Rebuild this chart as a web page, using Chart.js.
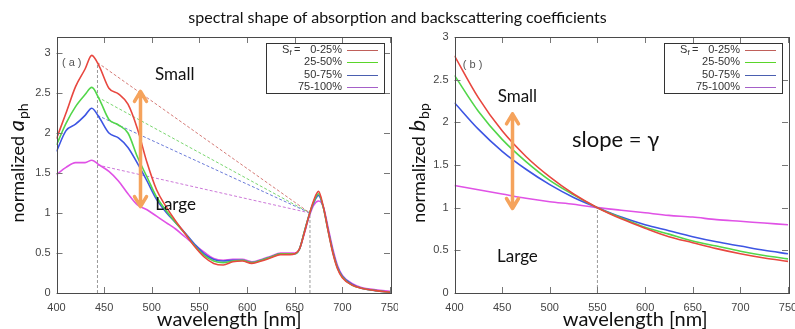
<!DOCTYPE html>
<html>
<head>
<meta charset="utf-8">
<script src="https://cdn.jsdelivr.net/npm/chart.js@4.4.1/dist/chart.umd.min.js"></script>
<style>
  html, body { margin: 0; padding: 0; background: #fff; }
  #wrap { position: relative; width: 795px; height: 329px; overflow: hidden; }
  #title { position: absolute; left: 0; top: 7px; width: 795px; text-align: center;
           font: 16px Lato, "Open Sans", sans-serif; color: #111; }
  .panel { position: absolute; top: 0; height: 329px; }
  #panelA { left: 0; width: 398px; }
  #panelB { left: 398px; width: 397px; }
</style>
</head>
<body>
<div id="wrap">
  <div class="panel" id="panelA"><canvas id="aphChart"></canvas></div>
  <div class="panel" id="panelB"><canvas id="bbpChart"></canvas></div>
  <div id="title">spectral shape of absorption and backscattering coefficients</div>
</div>
<script>
// --- data ---
const groups = ['0-25%', '25-50%', '50-75%', '75-100%'];
const xTicks = [400, 450, 500, 550, 600, 650, 700, 750];
const yTicks = [0, 0.5, 1, 1.5, 2, 2.5, 3];

// (a) phytoplankton absorption, normalized
const wlA = [400, 410, 420, 430, 437, 445, 455, 465, 475, 485, 495, 505, 515, 525, 535, 545, 555, 565, 575, 585, 595,
             605, 615, 625, 635, 645, 650, 655, 660, 665, 670, 675, 680, 685, 690, 695, 700, 710, 720, 735, 750];
const aph0_25 = [1.93, 2.25, 2.58, 2.80, 2.97, 2.83, 2.56, 2.49, 2.36, 2.05, 1.63, 1.29, 1.08, 0.90, 0.74, 0.58, 0.45, 0.37, 0.35, 0.39, 0.40,
                 0.37, 0.40, 0.44, 0.48, 0.48, 0.49, 0.55, 0.75, 0.97, 1.16, 1.27, 1.08, 0.78, 0.50, 0.30, 0.19, 0.10, 0.06, 0.03, 0.01];
const aph25_50 = [1.85, 2.12, 2.33, 2.48, 2.57, 2.42, 2.17, 2.10, 2.00, 1.70, 1.45, 1.20, 1.03, 0.88, 0.74, 0.59, 0.47, 0.40, 0.38, 0.40, 0.41,
                  0.38, 0.41, 0.45, 0.49, 0.49, 0.49, 0.55, 0.76, 0.97, 1.14, 1.24, 1.07, 0.78, 0.51, 0.31, 0.20, 0.10, 0.06, 0.03, 0.01];
const aph50_75 = [1.77, 2.03, 2.11, 2.22, 2.31, 2.19, 2.00, 1.94, 1.82, 1.62, 1.40, 1.17, 1.01, 0.88, 0.75, 0.61, 0.49, 0.42, 0.40, 0.41, 0.41,
                  0.38, 0.41, 0.45, 0.49, 0.49, 0.49, 0.55, 0.76, 0.97, 1.13, 1.22, 1.07, 0.79, 0.52, 0.32, 0.21, 0.11, 0.06, 0.03, 0.01];
const aph75_100 = [1.48, 1.57, 1.63, 1.63, 1.66, 1.60, 1.52, 1.40, 1.24, 1.10, 1.04, 0.96, 0.88, 0.80, 0.70, 0.60, 0.51, 0.43, 0.41, 0.42, 0.42,
                   0.39, 0.42, 0.46, 0.50, 0.50, 0.50, 0.55, 0.74, 0.95, 1.10, 1.15, 1.08, 0.82, 0.55, 0.34, 0.22, 0.12, 0.07, 0.04, 0.02];
// blue peak -> red peak straight lines
const peakWl = 443;
const redWl = 666;
const aphAtPeak = [2.88, 2.45, 2.22, 1.60];

// (b) particulate backscattering, normalized at 550
const wlB = [400, 425, 450, 475, 500, 525, 550, 575, 600, 625, 650, 675, 700, 725, 750];
const bbp0_25 = [2.78, 2.29, 1.90, 1.60, 1.36, 1.16, 1.00, 0.87, 0.76, 0.66, 0.59, 0.52, 0.46, 0.41, 0.37];
const bbp25_50 = [2.55, 2.13, 1.80, 1.54, 1.32, 1.15, 1.00, 0.88, 0.77, 0.69, 0.61, 0.55, 0.49, 0.44, 0.40];
const bbp50_75 = [2.23, 1.92, 1.66, 1.45, 1.27, 1.12, 1.00, 0.89, 0.80, 0.73, 0.66, 0.60, 0.55, 0.50, 0.46];
const bbp75_100 = [1.26, 1.21, 1.16, 1.11, 1.07, 1.04, 1.00, 0.97, 0.94, 0.91, 0.89, 0.86, 0.84, 0.82, 0.80];
const refWl = 550;

// --- styles ---
const curveColors = ['#e8473f', '#52d64a', '#3d55e3', '#e052e6'];
const keyColors = ['#c0605a', '#5ad52a', '#4a5fb0', '#a560c8'];
const dashColors = ['#d57c78', '#7ad670', '#6a7ad8', '#cc78d8'];
const orange = '#f5a35c';

const pts = (xs, ys) => xs.map((x, i) => ({ x, y: ys[i] }));

const solid = (data, i) => ({
    label: groups[i], data, borderColor: curveColors[i], borderWidth: 1.6,
    pointRadius: 0, cubicInterpolationMode: 'monotone', fill: false
});
const dashed = (data, color) => ({
    data, borderColor: color, borderWidth: 1, borderDash: [3, 2],
    pointRadius: 0, fill: false
});

// arrow with two open heads, in pixels
function drawArrow(ctx, x, y0, y1) {
    const head = (yy, dir) => {
        ctx.moveTo(x - 6, yy + dir * 10);
        ctx.lineTo(x, yy);
        ctx.lineTo(x + 6, yy + dir * 10);
    };
    ctx.strokeStyle = orange;
    ctx.lineWidth = 3.5;
    ctx.lineCap = 'round';
    ctx.lineJoin = 'round';
    ctx.beginPath();
    ctx.moveTo(x, y0);
    ctx.lineTo(x, y1);
    head(y0, 1);
    head(y1, -1);
    ctx.stroke();
}

// frame, inward ticks, key, labels
const decor = {
    id: 'decor',
    afterDraw(chart, args, o) {
        const { ctx, chartArea: a, scales: { x, y } } = chart;
        ctx.save();

        // inward ticks on all four sides
        ctx.strokeStyle = '#777';
        ctx.lineWidth = 1;
        ctx.beginPath();
        xTicks.forEach(v => {
            const px = Math.round(x.getPixelForValue(v)) + 0.5;
            ctx.moveTo(px, a.bottom); ctx.lineTo(px, a.bottom - 6);
            ctx.moveTo(px, a.top); ctx.lineTo(px, a.top + 6);
        });
        yTicks.forEach(v => {
            const py = Math.round(y.getPixelForValue(v)) + 0.5;
            ctx.moveTo(a.left, py); ctx.lineTo(a.left + 6, py);
            ctx.moveTo(a.right, py); ctx.lineTo(a.right - 6, py);
        });
        ctx.stroke();

        ctx.strokeStyle = '#4a4a4a';
        ctx.strokeRect(Math.round(a.left) + 0.5, Math.round(a.top) + 0.5,
                       Math.round(a.right - a.left), Math.round(a.bottom - a.top));

        // key box
        const lx = Math.round(a.right) - 124, ly = Math.round(a.top) + 6;
        ctx.strokeStyle = '#333';
        ctx.strokeRect(lx + 0.5, ly + 0.5, 118, 50);
        ctx.font = '11px "Liberation Sans", Arial, sans-serif';
        ctx.fillStyle = '#333';
        ctx.textBaseline = 'middle';
        groups.forEach((g, i) => {
            const ry = ly + 6.5 + i * 12.6;
            ctx.textAlign = 'right';
            ctx.fillText(g, lx + 76, ry);
            ctx.strokeStyle = keyColors[i];
            ctx.beginPath();
            ctx.moveTo(lx + 81, Math.round(ry) + 0.5);
            ctx.lineTo(lx + 112, Math.round(ry) + 0.5);
            ctx.stroke();
        });
        ctx.textAlign = 'left';
        ctx.fillText('S', lx + 16, ly + 6.5);
        ctx.font = '8px "Liberation Sans", Arial, sans-serif';
        ctx.fillText('f', lx + 23.5, ly + 10);
        ctx.font = '11px "Liberation Sans", Arial, sans-serif';
        ctx.fillText('=', lx + 28, ly + 6.5);

        // panel tag
        ctx.fillStyle = '#555';
        ctx.textAlign = 'center';
        ctx.fillText(o.tag[0], x.getPixelForValue(o.tag[1]), y.getPixelForValue(o.tag[2]));

        // guide arrow
        const ax = Math.round(x.getPixelForValue(o.arrow[0])) + 0.5;
        drawArrow(ctx, ax, y.getPixelForValue(o.arrow[1]), y.getPixelForValue(o.arrow[2]));

        // notes
        ctx.fillStyle = '#111';
        o.notes.forEach(([t, wl, v, size]) => {
            ctx.font = size + 'px Lato, "Open Sans", "DejaVu Sans", sans-serif';
            ctx.fillText(t, x.getPixelForValue(wl), y.getPixelForValue(v));
        });

        // x title
        ctx.textBaseline = 'alphabetic';
        ctx.font = '20px Lato, "Open Sans", sans-serif';
        ctx.fillText('wavelength [nm]', (a.left + a.right) / 2 + o.xTitleDx, 326);

        // y title: normalized <i>a</i><sub>ph</sub>
        const f1 = '18px Lato, "Open Sans", sans-serif';
        const f2 = 'italic 22px Lato, "Open Sans", sans-serif';
        const f3 = '14px Lato, "Open Sans", sans-serif';
        ctx.font = f1; const w1 = ctx.measureText('normalized ').width;
        ctx.font = f2; const w2 = ctx.measureText(o.yTitle[0]).width + 1;
        ctx.font = f3; const w3 = ctx.measureText(o.yTitle[1]).width;
        ctx.translate(o.yTitleX, 163);
        ctx.rotate(-Math.PI / 2);
        ctx.textAlign = 'left';
        let cx = -(w1 + w2 + w3) / 2;
        ctx.font = f1; ctx.fillText('normalized ', cx, 0); cx += w1;
        ctx.font = f2; ctx.fillText(o.yTitle[0], cx, 0); cx += w2;
        ctx.font = f3; ctx.fillText(o.yTitle[1], cx, 4);

        ctx.restore();
    }
};

function makeChart(id, datasets, yMax, opts) {
    return new Chart(document.getElementById(id), {
        type: 'line',
        data: { datasets },
        options: {
            responsive: true,
            maintainAspectRatio: false,
            animation: false,
            layout: { padding: { top: 37, right: opts.padRight, left: 0, bottom: 0 } },
            plugins: { legend: { display: false }, tooltip: { enabled: false }, decor: opts },
            scales: {
                x: {
                    type: 'linear', min: 400, max: 750,
                    afterBuildTicks: s => { s.ticks = xTicks.map(v => ({ value: v })); },
                    afterFit: s => { s.height = 36; s.paddingLeft = 0; s.paddingRight = 0; },
                    grid: { display: false, drawTicks: false },
                    border: { display: false },
                    ticks: { color: '#444', font: { family: 'Liberation Sans', size: 11 }, padding: 8,
                             maxRotation: 0, autoSkip: false, callback: v => String(v) }
                },
                y: {
                    min: 0, max: yMax,
                    afterBuildTicks: s => { s.ticks = yTicks.map(v => ({ value: v })); },
                    afterFit: s => { s.width = 56.5; s.paddingTop = 0; s.paddingBottom = 0; },
                    grid: { display: false, drawTicks: false },
                    border: { display: false },
                    ticks: { color: '#444', font: { family: 'Liberation Sans', size: 11 }, padding: 6,
                             callback: v => String(v) }
                }
            }
        },
        plugins: [decor]
    });
}

document.addEventListener('DOMContentLoaded', () => {

    // --- 1. absorption panel ---
    const aphSeries = [aph0_25, aph25_50, aph50_75, aph75_100];
    const setsA = aphSeries.map((s, i) => solid(pts(wlA, s), i));
    aphAtPeak.forEach((v, i) => setsA.push(dashed([{ x: peakWl, y: v }, { x: redWl, y: 1 }], dashColors[i])));
    setsA.push(dashed([{ x: peakWl, y: 0 }, { x: peakWl, y: aphAtPeak[0] }], '#9a9a9a'));
    setsA.push(dashed([{ x: redWl, y: 0 }, { x: redWl, y: 1 }], '#9a9a9a'));

    makeChart('aphChart', setsA, 3.2, {
        padRight: 8,
        tag: ['( a )', 416, 2.87],
        arrow: [488, 2.52, 1.08],
        notes: [['Small', 524, 2.73, 17], ['Large', 525, 1.11, 17]],
        xTitleDx: 6,
        yTitleX: 24,
        yTitle: ['a', 'ph']
    });

    // --- 2. backscattering panel ---
    const bbpSeries = [bbp0_25, bbp25_50, bbp50_75, bbp75_100];
    const setsB = bbpSeries.map((s, i) => solid(pts(wlB, s), i));
    setsB.push(dashed([{ x: refWl, y: 0 }, { x: refWl, y: 1 }], '#9a9a9a'));

    makeChart('bbpChart', setsB, 3, {
        padRight: 7,
        tag: ['( b )', 419, 2.67],
        arrow: [460, 2.10, 0.99],
        notes: [['Small', 466, 2.30, 17], ['Large', 466, 0.43, 17], ['slope = γ', 569, 1.79, 22]],
        xTitleDx: 14,
        yTitleX: 26.5,
        yTitle: ['b', 'bp']
    });

});
</script>
</body>
</html>
